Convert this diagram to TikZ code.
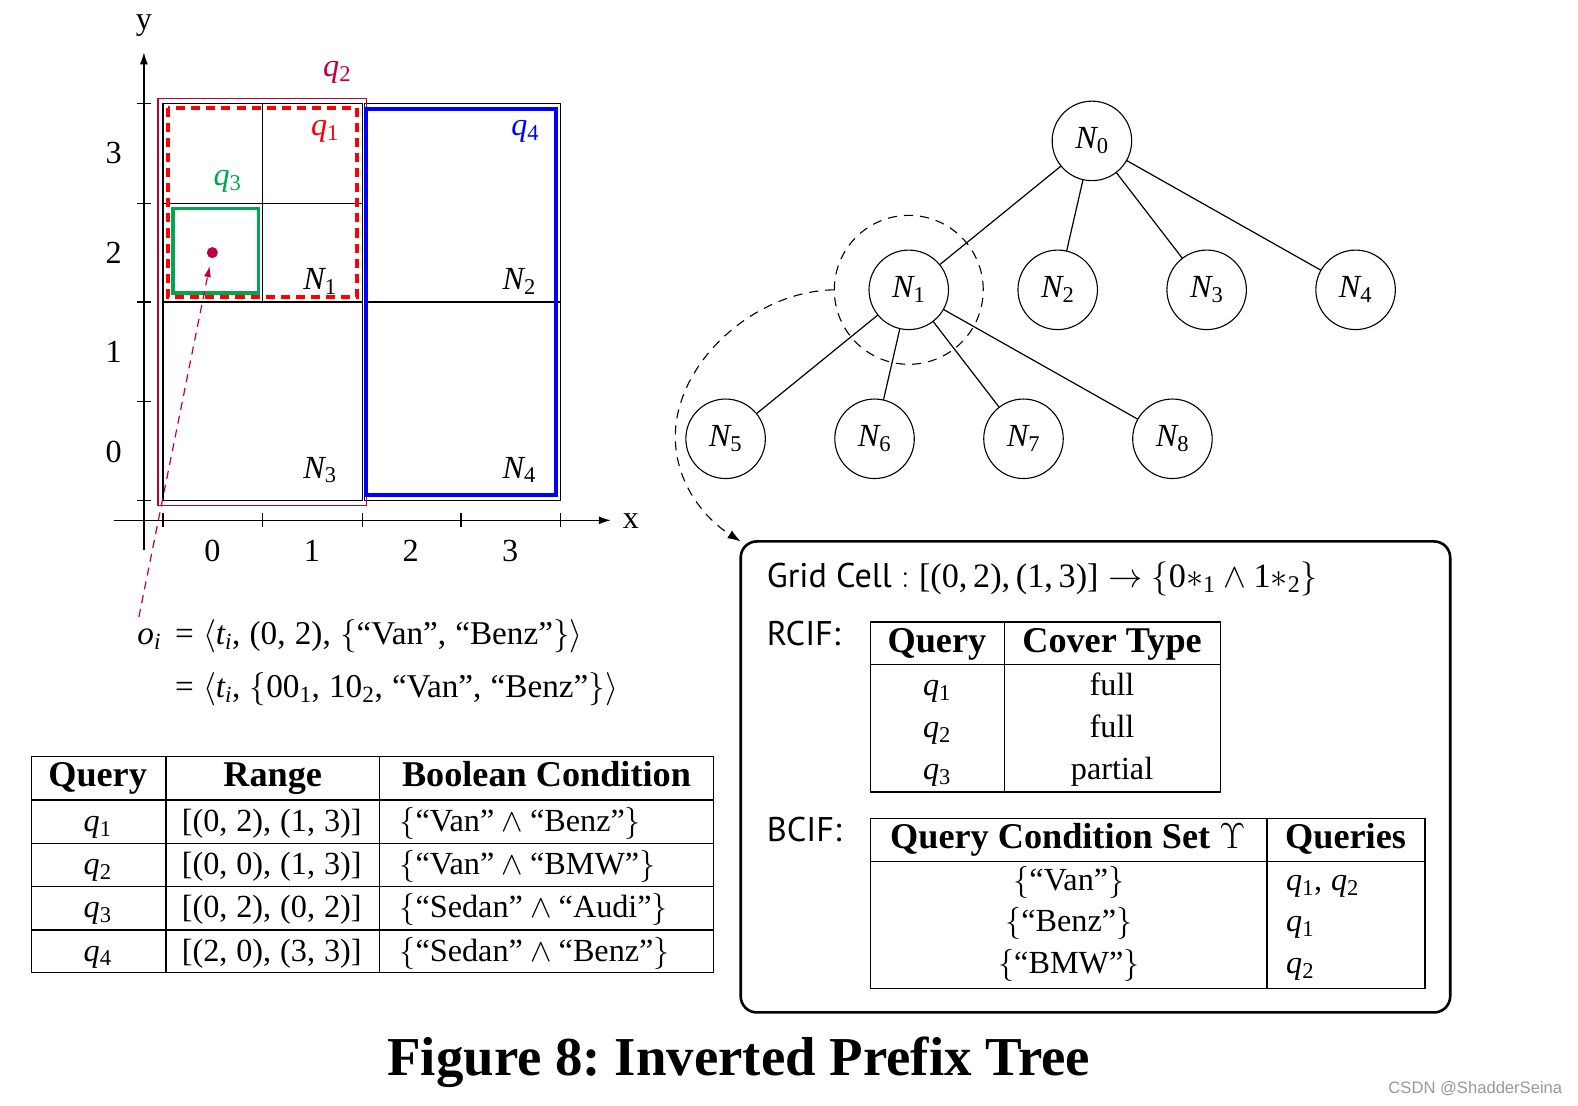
\RequirePackage{fix-cm}
\documentclass[tikz,border=0pt]{standalone}
\usepackage{amsmath}
\usepackage{fontspec}
\setmainfont{Liberation Serif}[NFSSFamily=libser]
\newfontfamily\bioSans{PT Sans}
\newfontfamily\wmFont{Liberation Sans}
\DeclareSymbolFont{letters}{TU}{libser}{m}{it}
\DeclareSymbolFont{libup}{TU}{libser}{m}{n}
\usetikzlibrary{arrows.meta}
\definecolor{qred}{RGB}{255,0,0}
\definecolor{qcrim}{RGB}{191,0,64}
\definecolor{qgreen}{RGB}{0,166,81}
\definecolor{qblue}{RGB}{0,0,255}
\newcommand\fsN{\fontsize{32}{38}\selectfont\thinmuskip=5mu}
\newcommand\fsE{\fontsize{33}{39}\selectfont\thinmuskip=5mu}
\newcommand\fsS{\fontsize{34}{40}\selectfont\thinmuskip=3mu}
\newcommand\fsH{\fontsize{36}{42}\selectfont\bfseries}
\newcommand\fsT{\fontsize{54.5}{64}\selectfont}
\frenchspacing
\begin{document}
\frenchspacing
\Umathcode`0=0 \symlibup "30
\Umathcode`1=0 \symlibup "31
\Umathcode`2=0 \symlibup "32
\Umathcode`3=0 \symlibup "33
\Umathcode`4=0 \symlibup "34
\Umathcode`5=0 \symlibup "35
\Umathcode`6=0 \symlibup "36
\Umathcode`7=0 \symlibup "37
\Umathcode`8=0 \symlibup "38
\Umathcode`9=0 \symlibup "39
\Umathcode`(=4 \symlibup "28
\Umathcode`)=5 \symlibup "29
\Umathcode`[=4 \symlibup "5B
\Umathcode`]=5 \symlibup "5D
\Umathcode`==3 \symlibup "3D
\Umathcode`,=6 \symlibup "2C
\begin{tikzpicture}[x=1pt,y=-1pt,font=\fsN,
  every node/.style={inner sep=0pt,outer sep=0pt},
  tline/.style={line width=1.2pt},
  axisline/.style={line width=1.2pt,-{Latex[length=12pt,width=8pt]}},
  tnode/.style={circle,draw,line width=1.1pt,minimum size=79pt,inner sep=0pt},
  ringdash/.style={line width=1.1pt,dash pattern=on 9pt off 7pt},
  cellb/.style={anchor=base},
  cellw/.style={anchor=base west},
  eqn/.style={anchor=base west,font=\fsE},
  headb/.style={anchor=base,font=\fsH},
  sanslabel/.style={anchor=base west,font=\bioSans\fsS}]
\fill[white] (0,0) rectangle (1568,1098);
\useasboundingbox (0,0) rectangle (1568,1098);

% ---------- axes ----------
\coordinate (xs) at (113,517); \coordinate (xe) at (607,517);
\coordinate (ys) at (143,547); \coordinate (ye) at (143,52);
\draw[axisline] (xs) -- (xe);
\draw[axisline] (ys) -- (ye);
\node (xl) at (627,518) {x};
\node (yl) at (143,25) {y};
\foreach \x in {162,261,360,458,557} \draw[tline] (\x,510) -- (\x,524);
\foreach \y in {103,202,300,399,497} \draw[tline] (136,\y) -- (150,\y);
\foreach \x/\t in {211/0,310/1,408/2,507/3} \node at (\x,547) {\t};
\foreach \y/\t in {449/0,350/1,251/2,152/3} \node at (113,\y) {\t};

% ---------- grid ----------
\draw[tline] (162,103) rectangle (360,300);
\draw[tline] (162,300) rectangle (360,497);
\draw[tline] (362,103) rectangle (557,300);
\draw[tline] (362,300) rectangle (557,497);
\draw[tline] (261,103) -- (261,300);
\draw[tline] (162,202) -- (360,202);

% ---------- queries ----------
\draw[qcrim,line width=1.2pt] (157,98) rectangle (364,502);
\draw[qblue,line width=4pt] (364,108) rectangle (552,492);
\draw[qred,line width=4pt,dash pattern=on 9pt off 6pt] (167,107) rectangle (355,295);
\draw[qgreen,line width=3.5pt] (172,207) rectangle (257,291);
\node[circle,fill=qcrim,minimum size=11pt] (dot) at (211,251) {};

\node[text=qcrim] (lq2) at (335,72) {$q_2$};
\node[text=qred] (lq1) at (323,131) {$q_1$};
\node[text=qgreen] (lq3) at (226,180) {$q_3$};
\node[text=qblue] (lq4) at (522,131) {$q_4$};
\node (gN1) at (318,280) {$N_1$};
\node (gN2) at (516,280) {$N_2$};
\node (gN3) at (318,467) {$N_3$};
\node (gN4) at (516,467) {$N_4$};

% ---------- equation ----------
\node[eqn] (eq1) at (174,640) {$= \langle t_i, (0, 2), \{\text{“Van”}, \text{“Benz”}\}\rangle$};
\node[anchor=base east,font=\fsE] (oi) at ([xshift=-14pt]eq1.base west) {$o_i$};
\node[eqn] (eq2) at (174,693) {$= \langle t_i, \{00_1, 10_2, \text{“Van”}, \text{“Benz”}\}\rangle$};
\coordinate (oiTop) at (138,613);
\draw[qcrim,line width=1.2pt,dash pattern=on 8pt off 6pt,
      -{Latex[length=11pt,width=7pt]},shorten >=8pt] (oiTop) -- (dot);

% ---------- left table ----------
\draw[tline] (31,752) rectangle (709,966);
\foreach \y in {795,838,881,924} \draw[tline] (31,\y) -- (709,\y);
\draw[tline] (165,752) -- (165,966);
\draw[tline] (377,752) -- (377,966);
\node[headb] (h1) at (97,782) {Query};
\node[headb] (h2) at (271,782) {Range};
\node[headb] (h3) at (543,782) {Boolean Condition};
\node[cellb] (a1) at (97,826) {$q_1$};
\node[cellb] (a2) at (97,869) {$q_2$};
\node[cellb] (a3) at (97,912) {$q_3$};
\node[cellb] (a4) at (97,955) {$q_4$};
\node[cellb] (b1) at (270,826) {$[(0, 2), (1, 3)]$};
\node[cellb] (b2) at (270,869) {$[(0, 0), (1, 3)]$};
\node[cellb] (b3) at (270,912) {$[(0, 2), (0, 2)]$};
\node[cellb] (b4) at (270,955) {$[(2, 0), (3, 3)]$};
\node[cellw] (c1) at (397,826) {$\{\text{“Van”} \wedge \text{“Benz”}\}$};
\node[cellw] (c2) at (397,869) {$\{\text{“Van”} \wedge \text{“BMW”}\}$};
\node[cellw] (c3) at (397,912) {$\{\text{“Sedan”} \wedge \text{“Audi”}\}$};
\node[cellw] (c4) at (397,955) {$\{\text{“Sedan”} \wedge \text{“Benz”}\}$};

% ---------- tree ----------
\node[tnode] (N0) at (1085,140) {$N_0$};
\node[tnode] (N1) at (903,288) {$N_1$};
\node[tnode] (N2) at (1051,288) {$N_2$};
\node[tnode] (N3) at (1199,288) {$N_3$};
\node[tnode] (N4) at (1347,288) {$N_4$};
\node[tnode] (N5) at (721,436) {$N_5$};
\node[tnode] (N6) at (869,436) {$N_6$};
\node[tnode] (N7) at (1017,436) {$N_7$};
\node[tnode] (N8) at (1165,436) {$N_8$};
\foreach \c in {N1,N2,N3,N4} \draw[tline] (N0) -- (\c);
\foreach \c in {N5,N6,N7,N8} \draw[tline] (N1) -- (\c);
\node[circle,draw,ringdash,minimum size=148pt] (ring) at (903,288) {};

% ---------- detail box ----------
\node[draw,rounded corners=16pt,line width=2.6pt,minimum width=705pt,minimum height=468pt] (box) at (1088.5,772) {};
\draw[ringdash,-{Latex[length=13pt,width=9pt]}] (ring.west) .. controls (750,289) and (671,360) .. (671,434)
   .. controls (671,480) and (700,515) .. (box.north west);

\node[sanslabel] (gc) at (762,584) {Grid Cell $: [(0, 2), (1, 3)] \rightarrow \{0{*}_1 \wedge 1{*}_2\}$};
\node[sanslabel] (rcif) at (762,641) {RCIF:};
\node[sanslabel] (bcif) at (762,836) {BCIF:};

% RCIF table
\draw[tline] (865,618) rectangle (1213,787);
\draw[tline] (865,660) -- (1213,660);
\draw[tline] (998,618) -- (998,787);
\node[headb] (r1) at (931,648) {Query};
\node[headb] (r2) at (1105,648) {Cover Type};
\node[cellb] (r3) at (931,691) {$q_1$};
\node[cellb] (r4) at (931,733) {$q_2$};
\node[cellb] (r5) at (931,775) {$q_3$};
\node[cellb] (r6) at (1105,691) {full};
\node[cellb] (r7) at (1105,733) {full};
\node[cellb] (r8) at (1105,775) {partial};

% BCIF table
\draw[tline] (865,813) rectangle (1416,982);
\draw[tline] (865,856) -- (1416,856);
\draw[tline] (1259,813) -- (1259,982);
\node[headb] (s1) at (1061,843) {Query Condition Set $\Upsilon$};
\node[headb] (s2) at (1337,843) {Queries};
\node[cellb] (s3) at (1062,885) {$\{\text{“Van”}\}$};
\node[cellb] (s4) at (1062,926) {$\{\text{“Benz”}\}$};
\node[cellb] (s5) at (1062,967) {$\{\text{“BMW”}\}$};
\node[cellw] (s6) at (1278,885) {$q_1, q_2$};
\node[cellw] (s7) at (1278,926) {$q_1$};
\node[cellw] (s8) at (1278,967) {$q_2$};

% ---------- caption ----------
\node[font=\fsT\bfseries] (title) at (734,1055) {Figure 8: Inverted Prefix Tree};
\node[font=\wmFont\fontsize{16.5}{20}\selectfont,text=black!40] (wm) at (1466,1082) {CSDN @ShadderSeina};
\end{tikzpicture}
\end{document}
